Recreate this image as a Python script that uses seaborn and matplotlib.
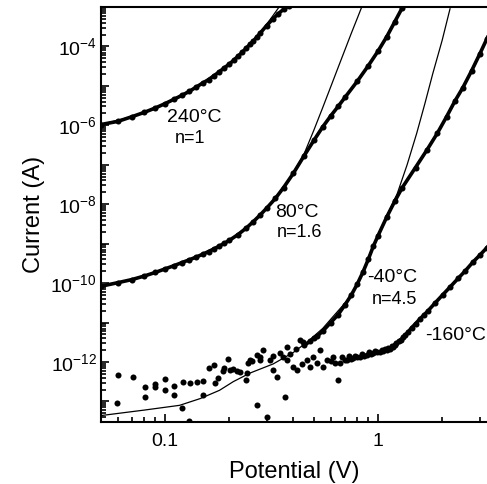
import numpy as np
import pandas as pd
import seaborn as sns
import matplotlib.pyplot as plt
from matplotlib.ticker import FixedLocator, FuncFormatter, NullFormatter

# values: voltage (V) and log10 of current (A)
v_240 = [0.05, 0.06, 0.07, 0.08, 0.09, 0.10, 0.11, 0.12, 0.13, 0.14, 0.15, 0.16, 0.17, 0.18, 0.19,
         0.20, 0.21, 0.22, 0.23, 0.24, 0.25, 0.26, 0.27, 0.28, 0.30, 0.32, 0.34, 0.36, 0.38, 0.40]
logi_240 = [-5.98, -5.90, -5.78, -5.67, -5.56, -5.45, -5.34, -5.24, -5.14, -5.03, -4.93, -4.84, -4.74, -4.64, -4.54,
            -4.45, -4.35, -4.25, -4.15, -4.05, -3.95, -3.86, -3.76, -3.66, -3.47, -3.31, -3.17, -3.06, -2.97, -2.89]
fit_v_240 = [0.05, 0.07, 0.10, 0.15, 0.20, 0.25, 0.28, 0.30, 0.32, 0.34, 0.36]
fit_logi_240 = [-5.98, -5.78, -5.45, -4.93, -4.45, -3.95, -3.64, -3.44, -3.23, -3.03, -2.83]

v_80 = [0.05, 0.06, 0.07, 0.08, 0.09, 0.10, 0.11, 0.12, 0.13, 0.14, 0.15, 0.16, 0.17, 0.18, 0.19, 0.20,
        0.22, 0.24, 0.26, 0.28, 0.30, 0.33, 0.36, 0.40, 0.45, 0.50, 0.55, 0.60, 0.65, 0.70, 0.80, 0.90,
        1.00, 1.10, 1.20, 1.30, 1.40]
logi_80 = [-10.08, -9.99, -9.91, -9.82, -9.73, -9.64, -9.56, -9.48, -9.41, -9.34, -9.27, -9.20, -9.13, -9.06, -8.99, -8.92,
           -8.77, -8.61, -8.44, -8.27, -8.10, -7.85, -7.58, -7.22, -6.77, -6.38, -6.04, -5.76, -5.52, -5.29, -4.88, -4.49,
           -4.12, -3.75, -3.37, -3.02, -2.70]
fit_v_80 = [0.05, 0.07, 0.10, 0.15, 0.20, 0.25, 0.30, 0.36, 0.40, 0.45, 0.50, 0.55, 0.60, 0.65, 0.70, 0.75, 0.80, 0.85]
fit_logi_80 = [-10.08, -9.91, -9.64, -9.27, -8.92, -8.52, -8.10, -7.58, -7.20, -6.72, -6.12, -5.55, -5.02, -4.53,
               -4.08, -3.66, -3.28, -2.92]

v_m40 = [0.0602, 0.0708, 0.0805, 0.0898, 0.100, 0.110, 0.1215, 0.131, 0.141, 0.151, 0.161, 0.170, 0.177, 0.187,
         0.198, 0.202, 0.209, 0.225, 0.245, 0.251, 0.257, 0.270, 0.279, 0.288, 0.311, 0.322, 0.347, 0.358, 0.374,
         0.387, 0.41, 0.43, 0.445, 0.45, 0.479, 0.50, 0.517, 0.55, 0.60, 0.65, 0.70, 0.75, 0.80, 0.85, 0.90, 0.95,
         1.00, 1.10, 1.20, 1.30, 1.50, 1.70, 1.90, 2.10, 2.30, 2.50, 2.75, 3.00, 3.25, 3.40]
logi_m40 = [-12.33, -12.38, -12.63, -12.56, -12.43, -12.61, -12.51, -12.53, -12.51, -12.48, -12.15, -12.08, -12.41, -12.23,
            -11.92, -12.20, -12.18, -12.25, -12.03, -11.95, -11.98, -11.82, -11.95, -11.70, -11.95, -11.85, -11.77, -11.87, -11.62,
            -11.80, -11.66, -11.44, -11.50, -11.58, -11.48, -11.40, -11.35, -11.22, -11.00, -10.80, -10.55, -10.30, -10.02, -9.72,
            -9.40, -9.07, -8.80, -8.32, -7.92, -7.58, -7.07, -6.62, -6.20, -5.78, -5.38, -5.05, -4.62, -4.20, -3.80, -3.56]
fit_v_m40 = [0.05, 0.08, 0.117, 0.146, 0.18, 0.209, 0.251, 0.322, 0.40, 0.464, 0.55, 0.615, 0.715, 0.823, 0.958,
             1.10, 1.228, 1.37, 1.52, 1.66, 1.81, 2.0, 2.18]
fit_logi_m40 = [-13.36, -13.22, -13.10, -12.93, -12.72, -12.50, -12.28, -12.05, -11.76, -11.50, -11.15, -10.85, -10.45,
                -9.90, -9.02, -8.30, -7.75, -7.00, -6.20, -5.45, -4.68, -3.85, -3.04]

v_m160 = [0.0595, 0.0805, 0.0898, 0.100, 0.110, 0.120, 0.130, 0.151, 0.172, 0.189, 0.218, 0.240, 0.243, 0.270, 0.279,
          0.301, 0.322, 0.336, 0.366, 0.374, 0.399, 0.417, 0.44, 0.464, 0.479, 0.495, 0.517, 0.534, 0.552, 0.576, 0.60,
          0.615, 0.63, 0.649, 0.663, 0.68, 0.70, 0.715, 0.73, 0.75, 0.763, 0.78, 0.80, 0.823, 0.84, 0.86, 0.888, 0.91,
          0.93, 0.947, 0.97, 0.99, 1.022, 1.04, 1.06, 1.08, 1.102, 1.12, 1.14, 1.16, 1.176, 1.20, 1.22, 1.25, 1.28, 1.31,
          1.34, 1.38, 1.44, 1.50, 1.58, 1.65, 1.72, 1.85, 2.02, 2.18, 2.38, 2.56, 2.79, 3.01, 3.25, 3.40]
logi_m160 = [-13.04, -12.89, -12.63, -12.71, -12.84, -13.16, -13.49, -12.84, -12.53, -12.15, -12.23, -12.46, -12.28, -13.09,
             -11.87, -13.39, -12.20, -12.38, -12.89, -11.95, -12.13, -12.20, -12.05, -11.95, -12.13, -11.87, -12.03, -11.70,
             -12.13, -11.95, -11.98, -11.87, -12.02, -12.46, -12.03, -11.88, -11.96, -11.95, -11.86, -11.92, -11.90, -11.84,
             -11.87, -11.87, -11.80, -11.84, -11.82, -11.76, -11.80, -11.77, -11.73, -11.76, -11.75, -11.70, -11.73, -11.67,
             -11.70, -11.64, -11.66, -11.60, -11.62, -11.56, -11.52, -11.48, -11.44, -11.38, -11.32, -11.25, -11.13, -11.03,
             -10.90, -10.80, -10.70, -10.51, -10.29, -10.10, -9.88, -9.70, -9.47, -9.29, -9.10, -8.97]

# (data, fit, V where measured data becomes a smooth curve)
curves = {
    "240": (v_240, logi_240, fit_v_240, fit_logi_240, 0.0),
    "80": (v_80, logi_80, fit_v_80, fit_logi_80, 0.0),
    "-40": (v_m40, logi_m40, fit_v_m40, fit_logi_m40, 0.45),
    "-160": (v_m160, logi_m160, None, None, 1.16),
}

sns.set_style("ticks", {"axes.edgecolor": "black", "text.color": "black", "axes.labelcolor": "black",
                        "xtick.color": "black", "ytick.color": "black"})
plt.rcParams["font.family"] = ["Liberation Sans", "DejaVu Sans"]
plt.rcParams["mathtext.fontset"] = "custom"
plt.rcParams["mathtext.rm"] = "Liberation Sans"

fig = plt.figure(figsize=(4.87, 4.84), dpi=100)
ax = fig.add_axes([101 / 487, 1 - 422 / 484, 386 / 487, 415 / 484])

for name, (v, li, fv, fli, v_smooth) in curves.items():
    df = pd.DataFrame({"V": v, "I": np.power(10.0, li)})
    smooth = df[df["V"] >= v_smooth]
    sns.lineplot(data=smooth, x="V", y="I", color="black", lw=2.6, estimator=None, ax=ax)
    sns.scatterplot(data=df, x="V", y="I", color="black", s=19, linewidth=0, ax=ax)
    if fv is not None:
        fit = pd.DataFrame({"V": fv, "I": np.power(10.0, fli)})
        sns.lineplot(data=fit, x="V", y="I", color="black", lw=0.9, estimator=None, ax=ax)

ax.set_xscale("log")
ax.set_yscale("log")
ax.set_xlim(0.05, 3.25)
ax.set_ylim(3.0e-14, 1.0e-3)

ax.yaxis.set_major_locator(FixedLocator([10.0 ** e for e in range(-13, -2)]))
ax.yaxis.set_major_formatter(FuncFormatter(
    lambda y, p: "$\\mathregular{10^{%d}}$" % round(np.log10(y)) if round(np.log10(y)) % 2 == 0 else ""))
ax.yaxis.set_minor_locator(FixedLocator([m * 10.0 ** e for e in range(-14, -2) for m in range(2, 10)]))
ax.yaxis.set_minor_formatter(NullFormatter())

ax.xaxis.set_major_locator(FixedLocator([0.1, 1.0]))
ax.xaxis.set_major_formatter(FuncFormatter(lambda x, p: "0.1" if x < 0.5 else "1"))
ax.xaxis.set_minor_locator(FixedLocator([0.05, 0.06, 0.07, 0.08, 0.09, 0.2, 0.3, 0.4, 0.5, 0.6, 0.7, 0.8, 0.9, 2, 3]))
ax.xaxis.set_minor_formatter(NullFormatter())

ax.tick_params(which="both", direction="in", width=1.2, labelsize=14, pad=3, color="black", labelcolor="black")
ax.tick_params(which="major", length=6)
ax.tick_params(which="minor", length=3.5)
ax.tick_params(axis="x", pad=8)

for s in ["left", "bottom", "top"]:
    ax.spines[s].set_linewidth(1.5)
    ax.spines[s].set_color("black")
ax.spines["right"].set_visible(False)

ax.set_xlabel("Potential (V)", fontsize=17, labelpad=8, color="black")
ax.set_ylabel("Current (A)", fontsize=17, labelpad=4, color="black")

ax.text(0.137, 1.6e-6, "240°C", fontsize=14, ha="center", va="center", color="black")
ax.text(0.131, 4.7e-7, "n=1", fontsize=13, ha="center", va="center", color="black")
ax.text(0.417, 6.3e-9, "80°C", fontsize=14, ha="center", va="center", color="black")
ax.text(0.430, 1.95e-9, "n=1.6", fontsize=13, ha="center", va="center", color="black")
ax.text(1.163, 1.35e-10, "-40°C", fontsize=14, ha="center", va="center", color="black")
ax.text(1.19, 3.9e-11, "n=4.5", fontsize=13, ha="center", va="center", color="black")
ax.text(2.32, 4.8e-12, "-160°C", fontsize=14, ha="center", va="center", color="black")

fig.savefig("out.png", dpi=100)
